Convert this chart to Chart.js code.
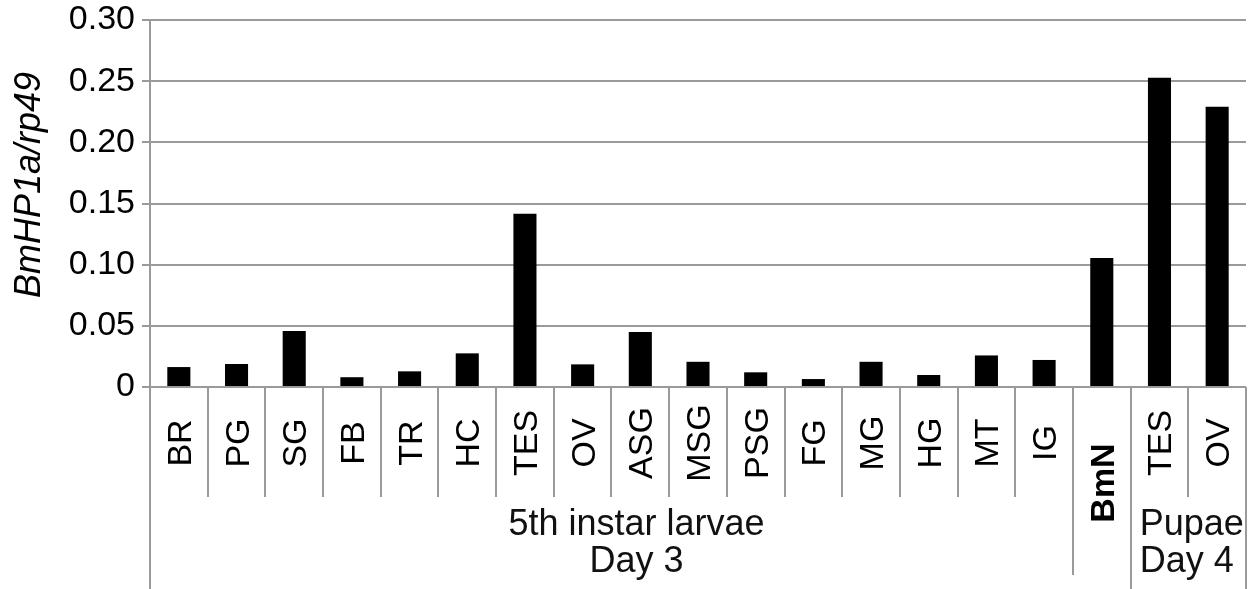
<!DOCTYPE html>
<html>
<head>
<meta charset="utf-8">
<script src="https://cdn.jsdelivr.net/npm/chart.js@4/dist/chart.umd.min.js"></script>
<style>
  html, body { margin: 0; padding: 0; background: #fff; }
  #wrap { width: 1253px; height: 589px; position: relative; }
</style>
</head>
<body>
<div id="wrap"><canvas id="chart"></canvas></div>
<script>
// tissues, read left to right
const categories = ['BR', 'PG', 'SG', 'FB', 'TR', 'HC', 'TES', 'OV', 'ASG', 'MSG',
  'PSG', 'FG', 'MG', 'HG', 'MT', 'IG', 'BmN', 'TES', 'OV'];
const expression = [0.0163, 0.0188, 0.0457, 0.0080, 0.0128, 0.0275, 0.1416, 0.0185, 0.0450, 0.0206,
  0.0120, 0.0065, 0.0206, 0.0098, 0.0258, 0.0221, 0.1055, 0.2528, 0.2291];
const larvaeGroup = ['5th instar larvae', 'Day 3'];
const pupaeGroup = ['Pupae', 'Day 4'];
const yTitle = 'BmHP1a/rp49';
const yMax = 0.30;
const yStep = 0.05;

const FONT = '"Liberation Sans", Arial, Helvetica, sans-serif';
const GRID = '#9a9a9a';

const labelsPlugin = {
  id: 'tableLabels',
  afterDraw(chart) {
    const ctx = chart.ctx;
    const xs = chart.scales.x;
    const area = chart.chartArea;
    const H = chart.height;
    const n = categories.length;
    const w = xs.width / n;
    const rowEnd = area.bottom + 110;

    ctx.save();
    ctx.strokeStyle = GRID;
    ctx.lineWidth = 2;
    // cell separators under the axis
    for (let k = 0; k <= n; k++) {
      const x = Math.round(xs.left + k * w);
      let end = rowEnd;
      if (k === 0 || k === 17 || k === n) end = H;
      else if (k === 16) end = area.bottom + 188;
      ctx.beginPath();
      ctx.moveTo(x, area.bottom);
      ctx.lineTo(x, end);
      ctx.stroke();
    }

    // rotated tissue labels
    ctx.fillStyle = '#000';
    ctx.textAlign = 'center';
    ctx.textBaseline = 'alphabetic';
    categories.forEach((lab, i) => {
      const cx = xs.getPixelForValue(i);
      const isCell = lab === 'BmN';
      ctx.font = (isCell ? 'bold ' : '') + '34px ' + FONT;
      const cy = isCell ? area.bottom + 96 : area.bottom + 56;
      ctx.save();
      ctx.translate(cx + 12, cy);
      ctx.rotate(-Math.PI / 2);
      ctx.fillText(lab, 0, 0);
      ctx.restore();
    });

    // group labels
    ctx.fillStyle = '#111';
    ctx.font = '36px ' + FONT;
    const larvaeX = (xs.left + 16 * w + xs.left) / 2 + 25;
    ctx.textAlign = 'center';
    ctx.fillText(larvaeGroup[0], larvaeX, area.bottom + 148);
    ctx.fillText(larvaeGroup[1], larvaeX, area.bottom + 185);
    ctx.textAlign = 'left';
    const pupaeX = xs.left + 17 * w + 9;
    ctx.fillText(pupaeGroup[0], pupaeX, area.bottom + 148);
    ctx.fillText(pupaeGroup[1], pupaeX, area.bottom + 185);

    // y axis title
    ctx.fillStyle = '#000';
    ctx.font = 'italic 36px ' + FONT;
    ctx.textAlign = 'center';
    ctx.save();
    ctx.translate(27 + 13, 185);
    ctx.rotate(-Math.PI / 2);
    ctx.fillText(yTitle, 0, 0);
    ctx.restore();
    ctx.restore();
  }
};

new Chart(document.getElementById('chart'), {
  type: 'bar',
  data: {
    labels: categories,
    datasets: [{
      data: expression,
      backgroundColor: '#000',
      borderWidth: 0,
      barPercentage: 0.4,
      categoryPercentage: 1.0
    }]
  },
  options: {
    responsive: true,
    maintainAspectRatio: false,
    animation: false,
    events: [],
    layout: { padding: { top: 20, right: 7, bottom: 202, left: 0 } },
    plugins: {
      legend: { display: false },
      tooltip: { enabled: false },
      title: { display: false }
    },
    scales: {
      x: { display: false },
      y: {
        min: 0,
        max: yMax,
        afterFit(scale) {
          scale.width = 150;
          scale.paddingTop = 0;
          scale.paddingBottom = 0;
        },
        ticks: {
          stepSize: yStep,
          color: '#000',
          padding: 7,
          font: { family: FONT, size: 34 },
          callback: v => (v === 0 ? '0' : v.toFixed(2))
        },
        grid: { color: GRID, lineWidth: 2, tickLength: 8 },
        border: { color: GRID, width: 2 }
      }
    }
  },
  plugins: [labelsPlugin]
});
</script>
</body>
</html>
